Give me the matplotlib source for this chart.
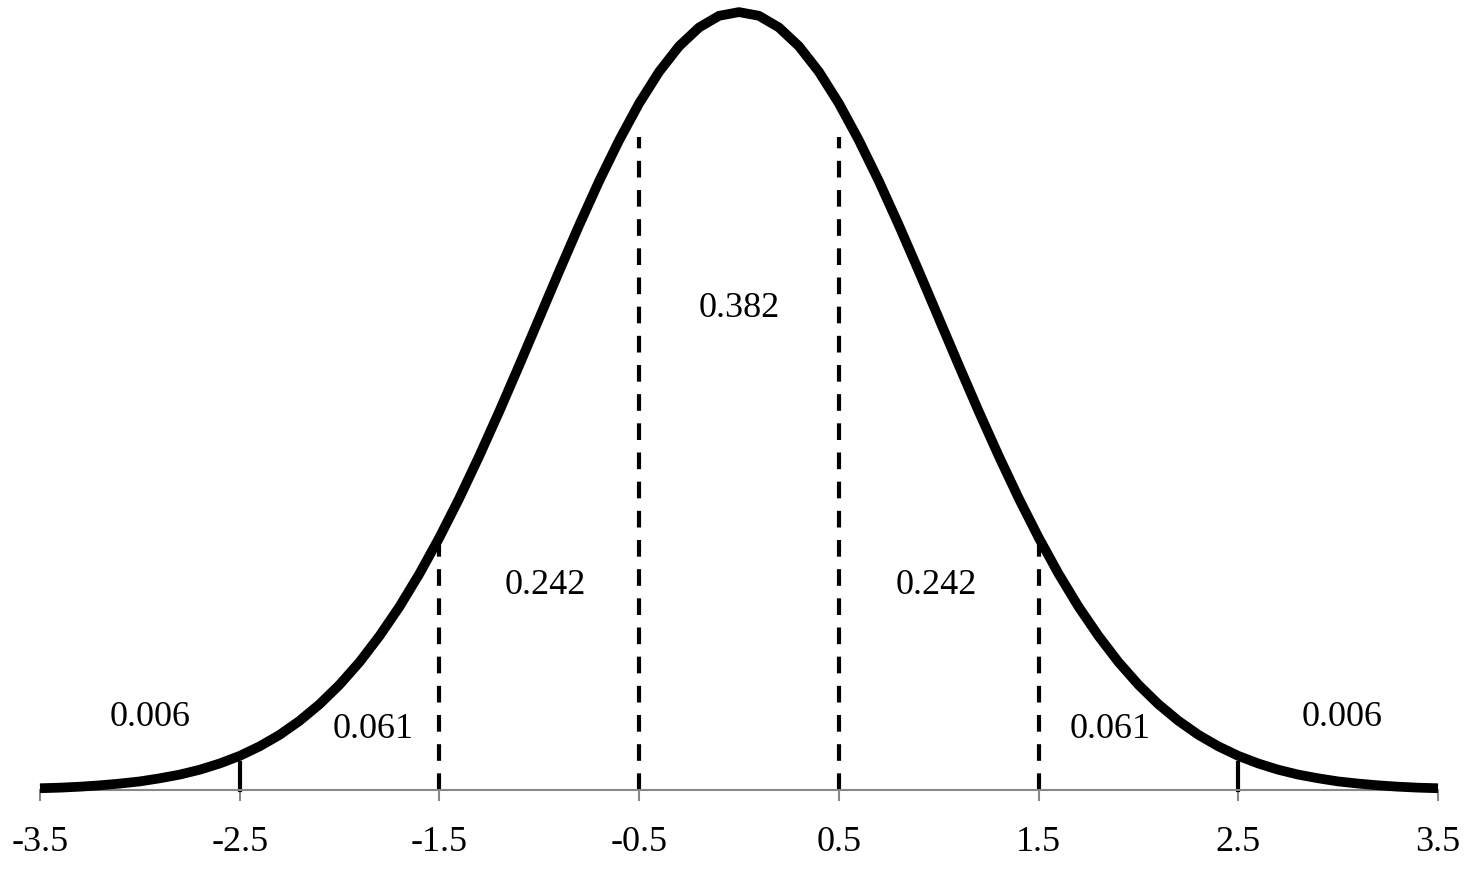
import matplotlib.pyplot as plt

# density values, x = -3.5 .. 3.5 step 0.1 (symmetric)
half = [0.3989, 0.3970, 0.3910, 0.3814, 0.3683, 0.3521, 0.3332, 0.3123, 0.2897, 0.2661,
        0.2420, 0.2179, 0.1942, 0.1714, 0.1497, 0.1295, 0.1109, 0.0940, 0.0790, 0.0656,
        0.0540, 0.0440, 0.0355, 0.0283, 0.0224, 0.0175, 0.0136, 0.0104, 0.0079, 0.0060,
        0.0044, 0.0033, 0.0024, 0.0017, 0.0012, 0.0009]
xs = [round(-3.5 + 0.1 * i, 1) for i in range(71)]
ys = half[::-1] + half[1:]

dash_x = [-1.5, -0.5, 0.5, 1.5]
dash_top = [0.128, 0.335, 0.335, 0.128]
short_x = [-2.5, 2.5]
short_top = [0.014, 0.014]

area_labels = ['0.006', '0.061', '0.242', '0.382', '0.242', '0.061', '0.006']
label_x = [-2.95, -1.83, -0.97, 0.0, 0.99, 1.86, 3.02]
label_y = [0.037, 0.031, 0.105, 0.247, 0.105, 0.031, 0.037]

ticks = [-3.5, -2.5, -1.5, -0.5, 0.5, 1.5, 2.5, 3.5]

plt.rcParams['font.family'] = ['Liberation Serif', 'DejaVu Serif']
fig = plt.figure(figsize=(14.74, 8.94), dpi=100)
ax = fig.add_axes([40 / 1474, 104 / 894, 1398 / 1474, 782 / 894])

ax.plot(xs, ys, color='black', lw=7, solid_capstyle='butt', zorder=3)
for x, t in zip(dash_x, dash_top):
    ax.plot([x, x], [0, t], color='black', lw=3, ls=(0, (4, 3)), zorder=2)
for x, t in zip(short_x, short_top):
    ax.plot([x, x], [0, t], color='black', lw=3, zorder=2)
for s, x, y in zip(area_labels, label_x, label_y):
    ax.text(x, y, s, ha='center', va='center', fontsize=26)

ax.set_xlim(-3.5, 3.5)
ax.set_ylim(0, 0.401)
for side in ['top', 'right', 'left']:
    ax.spines[side].set_visible(False)
ax.spines['bottom'].set_color('#888888')
ax.spines['bottom'].set_linewidth(1.5)
ax.set_yticks([])
ax.set_xticks(ticks)
ax.set_xticklabels([str(t) for t in ticks])
ax.tick_params(axis='x', colors='#888888', length=8, width=1.5, labelsize=26,
               labelcolor='black', pad=18)
ax.set_clip_on(False)
for line in ax.lines:
    line.set_clip_on(False)

fig.savefig('out.png', dpi=100)
